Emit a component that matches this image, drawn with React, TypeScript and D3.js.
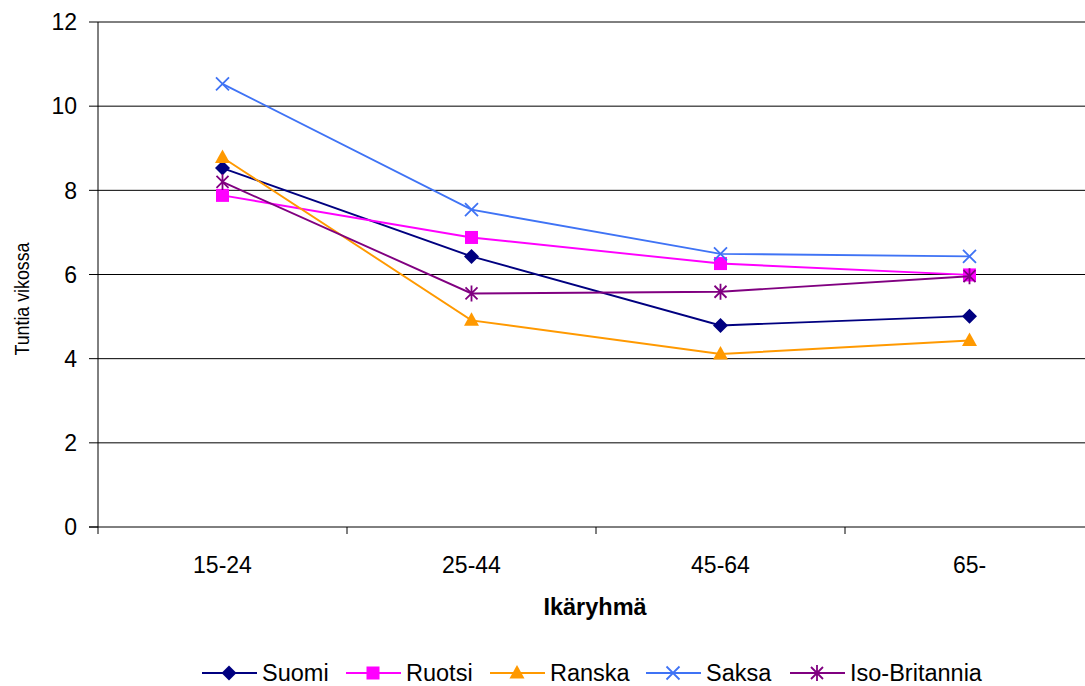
import React from "react";
import * as d3 from "d3";

const categories = ["15-24", "25-44", "45-64", "65-"];
const suomi = [8.53, 6.43, 4.79, 5.01];
const ruotsi = [7.88, 6.88, 6.26, 5.99];
const ranska = [8.78, 4.91, 4.11, 4.43];
const saksa = [10.53, 7.54, 6.49, 6.43];
const isoBritannia = [8.2, 5.55, 5.59, 5.96];
const seriesNames = ["Suomi", "Ruotsi", "Ranska", "Saksa", "Iso-Britannia"];
const yTicks = [0, 2, 4, 6, 8, 10, 12];

const W = 1085, H = 686;
const m = { left: 98, right: 1094, top: 22, bottom: 527 };

const styles = [
  { color: "#000080", marker: "diamond" },
  { color: "#FF00FF", marker: "square" },
  { color: "#FF9900", marker: "triangle" },
  { color: "#3F73F5", marker: "x" },
  { color: "#800080", marker: "star" },
];

function Marker({ type, x, y, color }: { type: string; x: number; y: number; color: string }) {
  const s = 7.5;
  if (type === "diamond")
    return <path d={`M${x},${y - s} L${x + s},${y} L${x},${y + s} L${x - s},${y} Z`} fill={color} />;
  if (type === "square") return <rect x={x - 6.5} y={y - 6.5} width={13} height={13} fill={color} />;
  if (type === "triangle")
    return <path d={`M${x},${y - 8} L${x + 7.5},${y + 5.5} L${x - 7.5},${y + 5.5} Z`} fill={color} />;
  if (type === "x")
    return (
      <path d={`M${x - 6.5},${y - 6.5} L${x + 6.5},${y + 6.5} M${x - 6.5},${y + 6.5} L${x + 6.5},${y - 6.5}`} stroke={color} strokeWidth={1.8} />
    );
  return (
    <path
      d={`M${x - 6},${y - 6} L${x + 6},${y + 6} M${x - 6},${y + 6} L${x + 6},${y - 6} M${x},${y - 8} L${x},${y + 8}`}
      stroke={color}
      strokeWidth={1.8}
    />
  );
}

export default function App() {
  const data = [suomi, ruotsi, ranska, saksa, isoBritannia];
  const x = d3.scaleBand().domain(categories).range([m.left, m.right]);
  const y = d3.scaleLinear().domain([0, 12]).range([m.bottom, m.top]);
  const cx = (c: string) => (x(c) as number) + x.bandwidth() / 2;
  const line = d3
    .line<number>()
    .x((_, i) => cx(categories[i]))
    .y((d) => y(d));
  const font = "'Liberation Sans', Arial, sans-serif";
  const legendX = [202, 346, 490, 646, 790];
  const legendY = 673;

  return (
    <svg width={W} height={H} style={{ position: "absolute", left: 0, top: 0, background: "#fff" }} fontFamily={font}>
      {yTicks.map((t) => (
        <g key={t}>
          {t > 0 && <line x1={m.left} x2={W} y1={y(t)} y2={y(t)} stroke="#000" strokeWidth={1} />}
          <line x1={m.left - 9} x2={m.left} y1={y(t)} y2={y(t)} stroke="#000" />
          <text x={m.left - 21} y={y(t)} dy="0.36em" textAnchor="end" fontSize={23}>
            {t}
          </text>
        </g>
      ))}
      <line x1={m.left} x2={m.left} y1={m.top} y2={m.bottom} stroke="#000" />
      <line x1={m.left - 9} x2={W} y1={m.bottom} y2={m.bottom} stroke="#000" />
      {[...categories.map((c) => x(c) as number), m.right].map((tx, i) => (
        <line key={i} x1={tx} x2={tx} y1={m.bottom} y2={m.bottom + 7} stroke="#000" />
      ))}
      {categories.map((c) => (
        <text key={c} x={cx(c)} y={573} textAnchor="middle" fontSize={23}>
          {c}
        </text>
      ))}
      <text x={595} y={615} textAnchor="middle" fontSize={23.5} fontWeight="bold">
        Ikäryhmä
      </text>
      <text
        transform={`translate(29,299) rotate(-90)`}
        textAnchor="middle"
        fontSize={21}
        textLength={113}
        lengthAdjust="spacingAndGlyphs"
      >
        Tuntia vikossa
      </text>
      {data.map((vals, si) => (
        <g key={si}>
          <path d={line(vals) || ""} fill="none" stroke={styles[si].color} strokeWidth={1.9} />
          {vals.map((v, i) => (
            <Marker key={i} type={styles[si].marker} x={cx(categories[i])} y={y(v)} color={styles[si].color} />
          ))}
        </g>
      ))}
      {seriesNames.map((n, si) => (
        <g key={n}>
          <line x1={legendX[si]} x2={legendX[si] + 55} y1={legendY} y2={legendY} stroke={styles[si].color} strokeWidth={1.9} />
          <Marker type={styles[si].marker} x={legendX[si] + 27} y={legendY} color={styles[si].color} />
          <text x={legendX[si] + 60} y={legendY} dy="0.36em" fontSize={23.5}>
            {n}
          </text>
        </g>
      ))}
    </svg>
  );
}
